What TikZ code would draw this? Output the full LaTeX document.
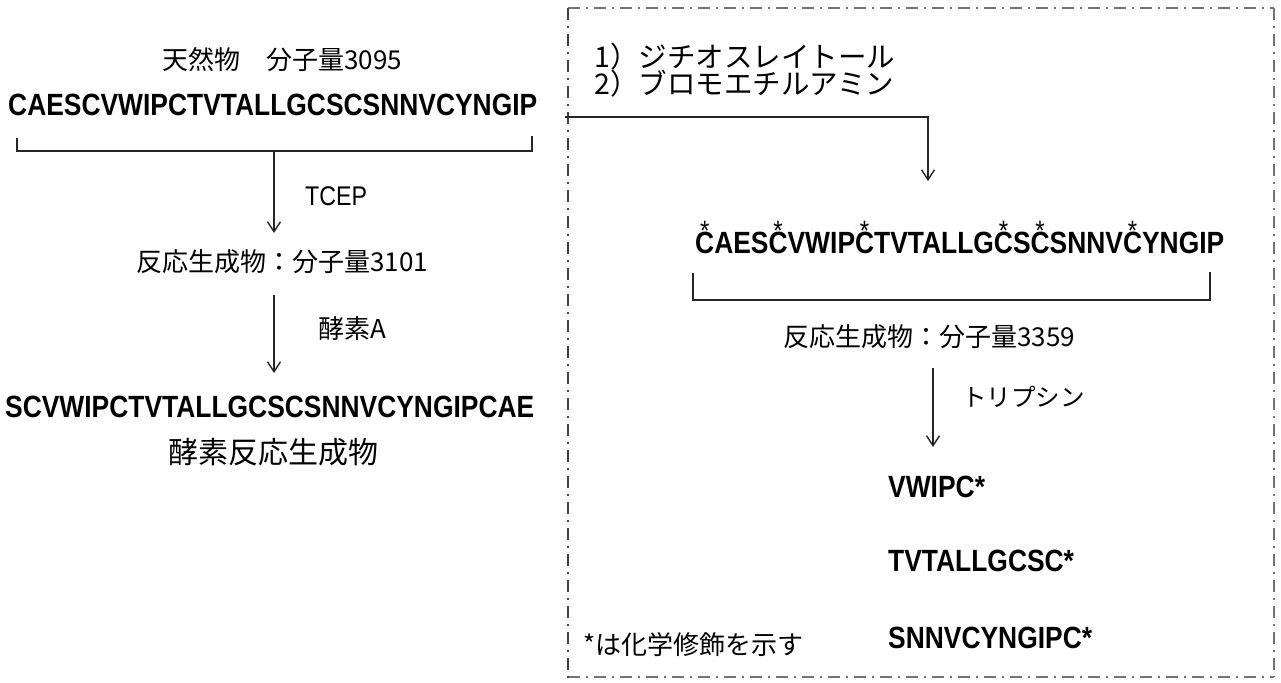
\documentclass[tikz,border=0pt]{standalone}
\usepackage{fontspec}
\usetikzlibrary{arrows.meta}
\newfontfamily\jp{Noto Sans CJK JP}
\newfontfamily\seqf[FakeStretch=0.86]{Liberation Sans}
\newcommand\Cs{\ooalign{C\cr\hidewidth\raisebox{13pt}{\mdseries\fontsize{28}{28}\selectfont *}\hidewidth\cr}}
\begin{document}
\begin{tikzpicture}[x=1pt,y=-1pt,
  seq/.style={inner sep=0pt, font=\seqf\bfseries\fontsize{30.7}{36}\selectfont, anchor=base west},
  jt/.style={inner sep=0pt, font=\jp\fontsize{26}{30}\selectfont},
  lbl/.style={inner sep=0pt, font=\seqf\fontsize{27}{30}\selectfont, anchor=base west},
  bracketline/.style={line width=1.6pt, black!85},
  arr/.style={line width=1.4pt, black!85, -{Straight Barb[length=10pt,width=13pt,line width=1.4pt]}},
  framedash/.style={black!55, line width=1.3pt, dash pattern=on 12pt off 6pt on 2pt off 6pt}]
\useasboundingbox[fill=white] (0,0) rectangle (1281,682);

% ---- left column ----
\node[jt] (t1) at (282,60) {天然物　分子量3095};
\node[seq] (s1) at (8,115) {CAESCVWIPCTVTALLGCSCSNNVCYNGIP};
\coordinate (b1a) at (17,138);
\coordinate (b1b) at (17,151);
\coordinate (b1c) at (532,151);
\coordinate (b1d) at (532,136);
\draw[bracketline] (b1a) -- (b1b) -- (b1c) -- (b1d);
\coordinate (a1s) at (274,151);
\coordinate (a1e) at (274,233);
\draw[arr] (a1s) -- (a1e);
\node[lbl] (tcep) at (305,205) {TCEP};
\node[jt] (t2) at (282,262) {反応生成物：分子量3101};
\coordinate (a2s) at (274,295);
\coordinate (a2e) at (274,373);
\draw[arr] (a2s) -- (a2e);
\node[jt] (enz) at (352,329) {酵素A};
\node[seq] (s2) at (5,417) {SCVWIPCTVTALLGCSCSNNVCYNGIPCAE};
\node[jt, font=\jp\fontsize{30}{34}\selectfont] (t3) at (273,452) {酵素反応生成物};

% ---- right panel frame ----
\coordinate (fa) at (568,8);
\coordinate (fb) at (1274,8);
\coordinate (fc) at (1274,677);
\coordinate (fd) at (568,677);
\coordinate (fe) at (568,682);
\draw[framedash] (fa) -- (fb);
\draw[framedash] (fb) -- (fc);
\draw[framedash] (fd) -- (fc);
\draw[framedash, black!75] (fa) -- (fe);

% ---- right column ----
\node[jt, font=\jp\fontsize{28.5}{30}\selectfont, anchor=west] (r1) at (594,57) {1）ジチオスレイトール};
\node[jt, font=\jp\fontsize{28.5}{30}\selectfont, anchor=west] (r2) at (594,84) {2）ブロモエチルアミン};
\coordinate (h0) at (565,117);
\coordinate (h1) at (928,117);
\coordinate (h2) at (928,181);
\draw[arr, line width=1.8pt] (h0) -- (h1) -- (h2);
\node[seq] (s3) at (695,253) {\Cs AES\Cs VWIP\Cs TVTALLG\Cs S\Cs SNNV\Cs YNGIP};
\coordinate (b2a) at (693,273);
\coordinate (b2b) at (693,300);
\coordinate (b2c) at (1210,300);
\coordinate (b2d) at (1210,272);
\draw[bracketline] (b2a) -- (b2b) -- (b2c) -- (b2d);
\node[jt, anchor=west] (t4) at (783,337) {反応生成物：分子量3359};
\coordinate (a3s) at (933,368);
\coordinate (a3e) at (933,447);
\draw[arr] (a3s) -- (a3e);
\node[jt, font=\jp\fontsize{24.5}{28}\selectfont, anchor=west] (tryp) at (962,397) {トリプシン};
\node[seq] (f1) at (888,497) {VWIPC*};
\node[seq] (f2) at (888,571) {TVTALLGCSC*};
\node[seq] (f3) at (888,648) {SNNVCYNGIPC*};
\node[jt, anchor=west] (note) at (583,645) {*は化学修飾を示す};
\end{tikzpicture}
\end{document}
